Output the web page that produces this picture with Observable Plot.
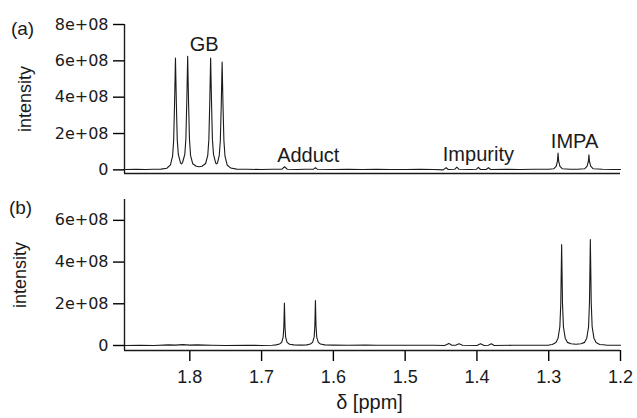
<!DOCTYPE html>
<html><head><meta charset="utf-8">
<script src="https://cdn.jsdelivr.net/npm/d3@7"></script>
<script src="https://cdn.jsdelivr.net/npm/@observablehq/plot@0.6"></script>
<style>
body{margin:0;background:#fff;}
#chart{position:relative;width:637px;height:418px;background:#fff;}
#chart svg{position:absolute;left:0;overflow:visible;background:transparent;}
#chart svg text{font-family:"Liberation Sans",Arial,Helvetica,sans-serif;fill:#1a1a1a;}
#chart g[aria-label^="y-axis"] text{font-family:"DejaVu Sans",sans-serif;font-size:16px;}
#chart g[aria-label^="x-axis"] text{font-size:18px;}
#chart g[aria-label^="y-axis"] line,#chart g[aria-label^="x-axis"] line,
#chart g[aria-label^="y-axis"] path,#chart g[aria-label^="x-axis"] path{stroke-width:1.4px;}
</style></head><body><div id="chart"></div>
<script>
// spectrum (a): [δ ppm, intensity ×1e8]
const specA = [
[1.890,0.02],[1.875,0.03],[1.862,0.02],[1.850,0.03],[1.840,0.04],[1.832,0.09],[1.827,0.27],[1.824,0.76],
[1.8225,1.63],[1.8212,3.75],[1.820,6.15],[1.8188,3.75],[1.8175,1.65],[1.816,0.85],[1.813,0.38],[1.8115,0.33],
[1.810,0.42],[1.807,0.85],[1.8055,1.7],[1.8042,3.8],[1.803,6.25],[1.8018,3.8],[1.8005,1.7],[1.799,0.8],
[1.796,0.34],[1.791,0.2],[1.787,0.17],[1.783,0.2],[1.778,0.35],[1.775,0.8],[1.7735,1.65],[1.7722,3.75],
[1.771,6.15],[1.7698,3.75],[1.7685,1.65],[1.767,0.85],[1.764,0.38],[1.763,0.33],[1.7615,0.37],[1.759,0.8],
[1.7575,1.6],[1.7562,3.6],[1.755,5.93],[1.7538,3.6],[1.7525,1.6],[1.751,0.75],[1.748,0.27],[1.743,0.1],
[1.735,0.04],[1.720,0.03],[1.700,0.02],[1.685,0.03],[1.672,0.03],[1.668,0.17],[1.664,0.03],[1.650,0.02],
[1.640,0.03],[1.628,0.03],[1.625,0.12],[1.622,0.03],[1.600,0.02],[1.580,0.03],[1.560,0.02],[1.540,0.03],
[1.520,0.02],[1.500,0.02],[1.480,0.03],[1.460,0.02],[1.447,0.0],[1.443,0.12],[1.440,0.02],[1.431,0.03],
[1.428,0.15],[1.425,0.03],[1.410,0.02],[1.401,0.03],[1.398,0.14],[1.395,0.02],[1.387,0.02],[1.384,0.12],
[1.381,0.02],[1.360,0.03],[1.340,0.02],[1.320,0.03],[1.300,0.03],[1.293,0.06],[1.2895,0.2],[1.2878,0.5],
[1.287,0.92],[1.2862,0.5],[1.2845,0.2],[1.281,0.06],[1.270,0.03],[1.260,0.03],[1.250,0.06],[1.2465,0.2],
[1.2448,0.45],[1.244,0.83],[1.2432,0.45],[1.2415,0.2],[1.238,0.06],[1.225,0.03],[1.210,0.02],[1.200,0.02]
];
// spectrum (b): [δ ppm, intensity ×1e8]
const specB = [
[1.890,0.0],[1.870,0.01],[1.850,0.0],[1.830,0.03],[1.820,0.02],[1.810,0.04],[1.800,0.02],[1.790,0.03],
[1.770,0.01],[1.750,0.0],[1.720,0.01],[1.700,0.0],[1.685,0.01],[1.680,0.03],[1.675,0.07],[1.672,0.15],
[1.670,0.4],[1.669,0.9],[1.6682,2.03],[1.6674,0.9],[1.6665,0.4],[1.6645,0.15],[1.661,0.06],[1.655,0.03],
[1.645,0.02],[1.637,0.03],[1.632,0.07],[1.629,0.15],[1.6268,0.4],[1.6258,0.95],[1.625,2.16],[1.6242,0.95],
[1.6232,0.4],[1.621,0.15],[1.618,0.07],[1.612,0.03],[1.600,0.02],[1.580,0.01],[1.555,0.02],[1.540,0.01],
[1.500,0.01],[1.460,0.01],[1.445,0.0],[1.439,0.1],[1.435,0.01],[1.429,0.02],[1.425,0.08],[1.420,0.01],
[1.400,0.0],[1.395,0.08],[1.390,0.0],[1.384,0.01],[1.380,0.08],[1.376,0.0],[1.350,0.01],[1.320,0.01],
[1.300,0.02],[1.295,0.05],[1.290,0.14],[1.287,0.35],[1.2845,0.9],[1.2832,2.0],[1.282,4.84],[1.2808,2.0],
[1.2795,0.9],[1.277,0.35],[1.274,0.15],[1.269,0.08],[1.262,0.06],[1.255,0.08],[1.250,0.15],[1.247,0.35],
[1.2445,0.9],[1.2432,2.1],[1.242,5.08],[1.2408,2.1],[1.2395,0.9],[1.237,0.35],[1.234,0.14],[1.229,0.05],
[1.220,0.02],[1.200,0.01]
];
const xDomain = [1.891, 1.2];
const xTicks = [1.8, 1.7, 1.6, 1.5, 1.4, 1.3, 1.2];
const xTickLabels = ["1.8", "1.7", "1.6", "1.5", "1.4", "1.3", "1.2"];
const yDomainA = [-0.2, 8];
const yTicksA = [0, 2, 4, 6, 8];
const yTickLabelsA = ["0", "2e+08", "4e+08", "6e+08", "8e+08"];
const yDomainB = [-0.24, 7];
const yTicksB = [0, 2, 4, 6];
const yTickLabelsB = ["0", "2e+08", "4e+08", "6e+08"];
const annText = ["GB", "Adduct", "Impurity", "IMPA"];
const annX = [1.780, 1.635, 1.398, 1.264];
const annY = [6.88, 0.77, 0.83, 1.55];

const fmt = (ticks, labels) => { const m = new Map(ticks.map((t, i) => [t, labels[i]])); return d => m.get(d) ?? ""; };
const rowsA = specA.map(([x, y]) => ({x, y}));
const rowsB = specB.map(([x, y]) => ({x, y}));
const anns = annText.map((t, i) => ({t, x: annX[i], y: annY[i]}));
const ink = "#1a1a1a";
const mid = {textAnchor: "middle", lineAnchor: "middle"};

const plotA = Plot.plot({
  width: 637, height: 190,
  marginLeft: 124, marginRight: 17, marginTop: 24, marginBottom: 17,
  x: {domain: xDomain, axis: null},
  y: {domain: yDomainA, ticks: yTicksA, tickFormat: fmt(yTicksA, yTickLabelsA), tickSize: 11, tickPadding: 5, label: null},
  marks: [
    Plot.ruleY([yDomainA[0]], {stroke: ink, strokeWidth: 1.5}),
    Plot.ruleX([xDomain[0]], {stroke: ink, strokeWidth: 1.4}),
    Plot.line(rowsA, {x: "x", y: "y", stroke: ink, strokeWidth: 1.1}),
    Plot.text(anns, {x: "x", y: "y", text: "t", fontSize: 20, fill: ink, ...mid}),
    Plot.text(["(a)"], {text: d => d, frameAnchor: "top-left", dx: -102, dy: 4, fontSize: 19, fill: ink, ...mid}),
    Plot.text(["intensity"], {text: d => d, frameAnchor: "left", dx: -99, rotate: -90, fontSize: 18, fontFamily: "DejaVu Sans", fill: ink, ...mid})
  ]
});
const plotB = Plot.plot({
  width: 637, height: 228,
  marginLeft: 124, marginRight: 17, marginTop: 9, marginBottom: 68,
  x: {domain: xDomain, ticks: xTicks, tickFormat: fmt(xTicks, xTickLabels), tickSize: 11, tickPadding: 9, label: null},
  y: {domain: yDomainB, ticks: yTicksB, tickFormat: fmt(yTicksB, yTickLabelsB), tickSize: 11, tickPadding: 5, label: null},
  marks: [
    Plot.ruleY([yDomainB[0]], {stroke: ink, strokeWidth: 1.5}),
    Plot.ruleX([xDomain[0]], {stroke: ink, strokeWidth: 1.4}),
    Plot.line(rowsB, {x: "x", y: "y", stroke: ink, strokeWidth: 1.1}),
    Plot.text(["(b)"], {text: d => d, frameAnchor: "top-left", dx: -104, dy: 8, fontSize: 19, fill: ink, ...mid}),
    Plot.text(["intensity"], {text: d => d, frameAnchor: "left", dx: -104, rotate: -90, fontSize: 18, fontFamily: "DejaVu Sans", fill: ink, ...mid}),
    Plot.text(["δ [ppm]"], {text: d => d, frameAnchor: "bottom", dx: -3, dy: 52, fontSize: 20, fill: ink, ...mid})
  ]
});
plotA.style.top = "0px";
plotB.style.top = "190px";
const c = document.getElementById("chart");
c.appendChild(plotA);
c.appendChild(plotB);
</script></body></html>
